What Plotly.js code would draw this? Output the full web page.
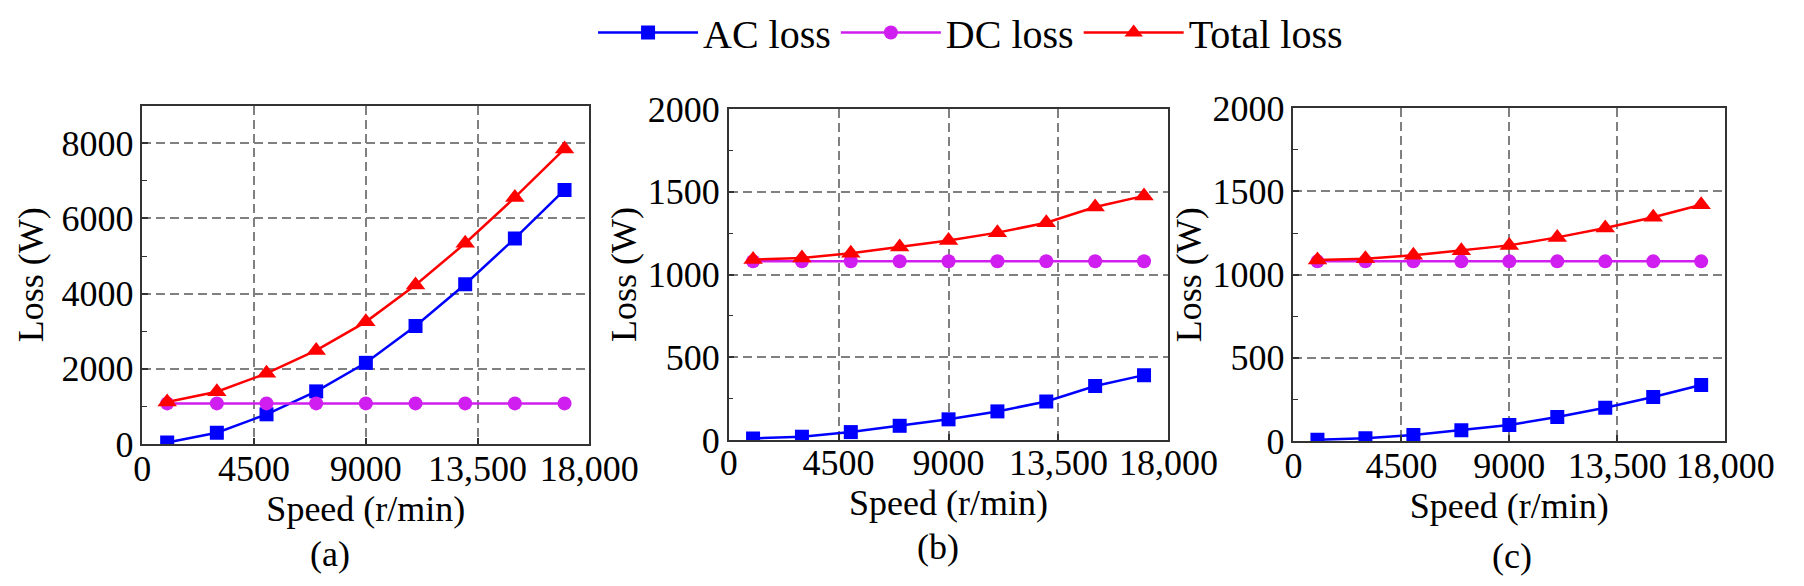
<!DOCTYPE html>
<html>
<head>
<meta charset="utf-8">
<script src="https://cdn.plot.ly/plotly-3.0.1.min.js"></script>
<style>
  html, body { margin: 0; padding: 0; background: #fff; }
  #chart { width: 1804px; height: 586px; }
</style>
</head>
<body>
<div id="chart"></div>
<script>
    // speed points (r/min), same for all three panels
    var speed = [1000, 3000, 5000, 7000, 9000, 11000, 13000, 15000, 17000];

    // (a)
    var acA    = [40, 300, 790, 1400, 2160, 3140, 4250, 5470, 6760];
    var dcA    = [1080, 1080, 1080, 1080, 1080, 1080, 1080, 1080, 1080];
    var totalA = [1120, 1390, 1880, 2490, 3250, 4230, 5340, 6560, 7850];

    // (b)
    var acB    = [10, 20, 48, 86, 125, 173, 233, 326, 392];
    var dcB    = [1080, 1080, 1080, 1080, 1080, 1080, 1080, 1080, 1080];
    var totalB = [1090, 1100, 1128, 1166, 1205, 1253, 1313, 1408, 1475];

    // (c)
    var acC    = [8, 16, 36, 64, 96, 144, 200, 265, 337];
    var dcC    = [1080, 1080, 1080, 1080, 1080, 1080, 1080, 1080, 1080];
    var totalC = [1088, 1096, 1116, 1144, 1176, 1224, 1280, 1345, 1420];

    var xTickVals = [0, 4500, 9000, 13500, 18000];
    var xTickText = ['0', '4500', '9000', '13,500', '18,000'];
    var seriesNames = ['AC loss', 'DC loss', 'Total loss'];
    var panelLabels = ['(a)', '(b)', '(c)'];

    var colors = ['#0000ff', '#d01ef0', '#ff0000'];
    var symbols = ['square', 'circle', 'triangle-up'];
    var sizes = [14, 14, 17];
    var font = 'Liberation Serif, Times New Roman, serif';

    var panels = [[acA, dcA, totalA], [acB, dcB, totalB], [acC, dcC, totalC]];
    var data = [];

    for (let p = 0; p < panels.length; p++) {
        let sfx = p == 0 ? '' : String(p + 1);
        for (let s = 0; s < 3; s++) {
            data.push({
                x: speed,
                y: panels[p][s],
                name: seriesNames[s],
                type: 'scatter',
                mode: 'lines+markers',
                xaxis: 'x' + sfx,
                yaxis: 'y' + sfx,
                showlegend: p == 0,
                line: {color: colors[s], width: 2.5},
                marker: {color: colors[s], symbol: symbols[s], size: sizes[s]},
            });
        }
    }

    function xax(dom, anchor, standoff, lblOff) {
        return {
            domain: dom, range: [0, 18000], anchor: anchor,
            tickmode: 'array', tickvals: xTickVals, ticktext: xTickText,
            ticks: 'inside', ticklen: 6, tickwidth: 1.5, tickcolor: '#333',
            ticklabelstandoff: lblOff,
            showgrid: true, gridcolor: '#808080', gridwidth: 1.5, griddash: '9px,5px',
            zeroline: false, showline: true, linecolor: '#333', linewidth: 1.5, mirror: true,
            tickfont: {family: font, size: 36, color: '#000'},
            title: {text: 'Speed (r/min)', font: {family: font, size: 36, color: '#000'}, standoff: standoff},
        };
    }
    function yax(dom, max, dtick, anchor, standoff) {
        return {
            domain: dom, range: [0, max], anchor: anchor,
            dtick: dtick, ticks: 'inside', ticklen: 6, tickwidth: 1.5, tickcolor: '#333',
            minor: {dtick: dtick / 2, ticks: 'inside', ticklen: 5, tickwidth: 1.2, tickcolor: '#333', showgrid: false},
            showgrid: true, gridcolor: '#808080', gridwidth: 1.5, griddash: '9px,5px',
            zeroline: false, showline: true, linecolor: '#333', linewidth: 1.5, mirror: true,
            tickfont: {family: font, size: 36, color: '#000'},
            title: {text: 'Loss (W)', font: {family: font, size: 36, color: '#000'}, standoff: standoff},
        };
    }

    var labelFont = {family: font, size: 36, color: '#000'};

    var layout = {
        width: 1804, height: 586,
        margin: {l: 0, r: 0, t: 0, b: 0},
        paper_bgcolor: '#fff', plot_bgcolor: '#fff',
        font: {family: font, color: '#000'},
        xaxis: xax([0.0789, 0.3267], 'y', 4, -8),
        xaxis2: xax([0.4039, 0.6477], 'y2', 0, -10),
        xaxis3: xax([0.7170, 0.9563], 'y3', 8, -8),
        yaxis: yax([0.2423, 0.8196], 9000, 2000, 'x', 7),
        yaxis2: yax([0.2491, 0.8140], 2000, 500, 'x2', 0),
        yaxis3: yax([0.2474, 0.8152], 2000, 500, 'x3', 0),
        legend: {orientation: 'h', x: 0.538, xanchor: 'center', y: 1.0, yanchor: 'top',
                 font: {family: font, size: 40, color: '#000'}, itemwidth: 100,
                 bgcolor: 'rgba(0,0,0,0)'},
        annotations: [
            {text: panelLabels[0], xref: 'paper', yref: 'paper', x: 330 / 1804, y: 1 - 554 / 586,
             xanchor: 'center', yanchor: 'middle', showarrow: false, font: labelFont},
            {text: panelLabels[1], xref: 'paper', yref: 'paper', x: 938 / 1804, y: 1 - 547 / 586,
             xanchor: 'center', yanchor: 'middle', showarrow: false, font: labelFont},
            {text: panelLabels[2], xref: 'paper', yref: 'paper', x: 1512 / 1804, y: 1 - 556 / 586,
             xanchor: 'center', yanchor: 'middle', showarrow: false, font: labelFont},
        ],
    };
    var config = {responsive: false, displayModeBar: false};
    Plotly.newPlot('chart', data, layout, config);
</script>
</body>
</html>
